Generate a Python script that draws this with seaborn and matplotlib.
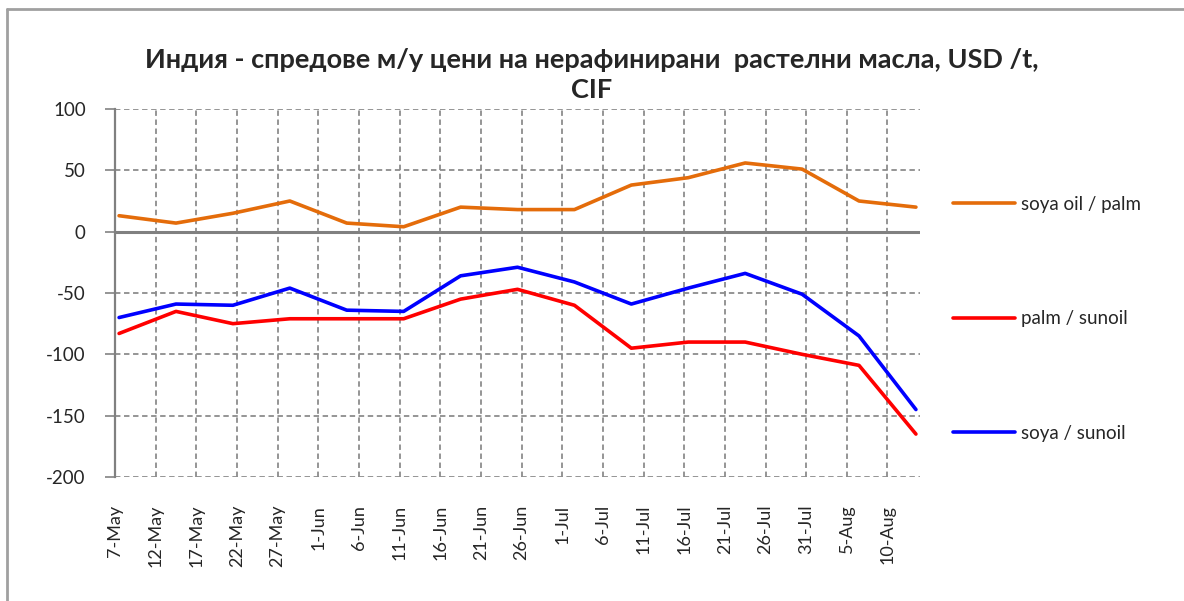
import pandas as pd
import numpy as np
import matplotlib
matplotlib.use("Agg")
import matplotlib.pyplot as plt
import matplotlib.transforms as mtransforms
from matplotlib.lines import Line2D
import seaborn as sns

# weekly observations (CIF India), USD/t
dates = ["2021-05-07", "2021-05-14", "2021-05-21", "2021-05-28", "2021-06-04",
         "2021-06-11", "2021-06-18", "2021-06-25", "2021-07-02", "2021-07-09",
         "2021-07-16", "2021-07-23", "2021-07-30", "2021-08-06", "2021-08-13"]
soya_palm = [13, 7, 15, 25, 7, 4, 20, 18, 18, 38, 44, 56, 51, 25, 20]
palm_sun = [-83, -65, -75, -71, -71, -71, -55, -47, -60, -95, -90, -90, -100, -109, -165]
soya_sun = [-70, -59, -60, -46, -64, -65, -36, -29, -41, -59, -46, -34, -51, -85, -145]

series_names = ["soya oil / palm", "palm / sunoil", "soya / sunoil"]
colors = ["#E46C0A", "#FF0000", "#0000FF"]
title = "Индия - спредове м/у цени на нерафинирани  растелни масла, USD /t,\nCIF"
y_ticks = [100, 50, 0, -50, -100, -150, -200]


def main():
    sns.set_style("white")
    plt.rcParams["font.family"] = ["Lato", "DejaVu Sans"]

    x = pd.to_datetime(dates) + pd.Timedelta(hours=12)
    df = pd.DataFrame({
        "date": np.tile(x, 3),
        "value": soya_palm + palm_sun + soya_sun,
        "series": np.repeat(series_names, len(dates)),
    })

    fig = plt.figure(figsize=(11.84, 6.01), dpi=100)
    ax = fig.add_axes([115 / 1184, 1 - 477 / 601, 805 / 1184, 368 / 601])

    # grid first so the lines sit on top
    ax.set_axisbelow(True)
    ax.grid(True, color="#8c8c8c", linestyle=(0, (3, 2)), linewidth=1.3)
    ax.axhline(0, color="#808080", linewidth=2.2, zorder=1.5)

    sns.lineplot(data=df, x="date", y="value", hue="series", hue_order=series_names,
                 palette=colors, linewidth=2.6, ax=ax, legend=True, zorder=3)

    start = pd.Timestamp(dates[0])
    ax.set_xlim(start, start + pd.Timedelta(days=99))
    ax.set_ylim(-200, 100)
    ticks = pd.date_range(start, periods=20, freq="5D")
    ax.set_xticks(ticks)
    ax.set_xticklabels([f"{t.day}-{t.strftime('%b')}" for t in ticks], rotation=90,
                       fontsize=13)
    # excel puts the rotated labels a bit right of the gridline
    shift = mtransforms.ScaledTranslation(5 / 72, 0, fig.dpi_scale_trans)
    for lbl in ax.get_xticklabels():
        lbl.set_transform(lbl.get_transform() + shift)
    ax.set_yticks(y_ticks)
    ax.set_yticklabels([str(v) for v in y_ticks], fontsize=13.5)
    ax.tick_params(axis="y", length=7, width=1.3, color="#8c8c8c", pad=14, left=True)
    ax.tick_params(axis="x", length=0, pad=20)
    ax.set_xlabel("")
    ax.set_ylabel("")

    for side in ["top", "right", "bottom"]:
        ax.spines[side].set_visible(False)
    ax.spines["left"].set_color("#808080")
    ax.spines["left"].set_linewidth(1.6)

    leg = ax.legend(loc="center left", bbox_to_anchor=(1.041, 0.43), frameon=False,
                    fontsize=13.5, handlelength=3.3, handletextpad=0.3,
                    labelspacing=5.2, borderpad=0, borderaxespad=0)
    for h in leg.get_lines():
        h.set_linewidth(2.6)

    fig.text(0.5, 1 - 75 / 601, title, ha="center", va="center", fontsize=19.5,
             fontweight="bold", linespacing=1.3)

    # outer chart border (left + top)
    fig.add_artist(Line2D([7 / 1184, 7 / 1184], [0, 1 - 9 / 601], color="#a0a0a0", lw=2))
    fig.add_artist(Line2D([7 / 1184, 1], [1 - 9 / 601, 1 - 9 / 601], color="#a0a0a0", lw=2))

    fig.savefig("out.png", dpi=100)


if __name__ == "__main__":
    main()
